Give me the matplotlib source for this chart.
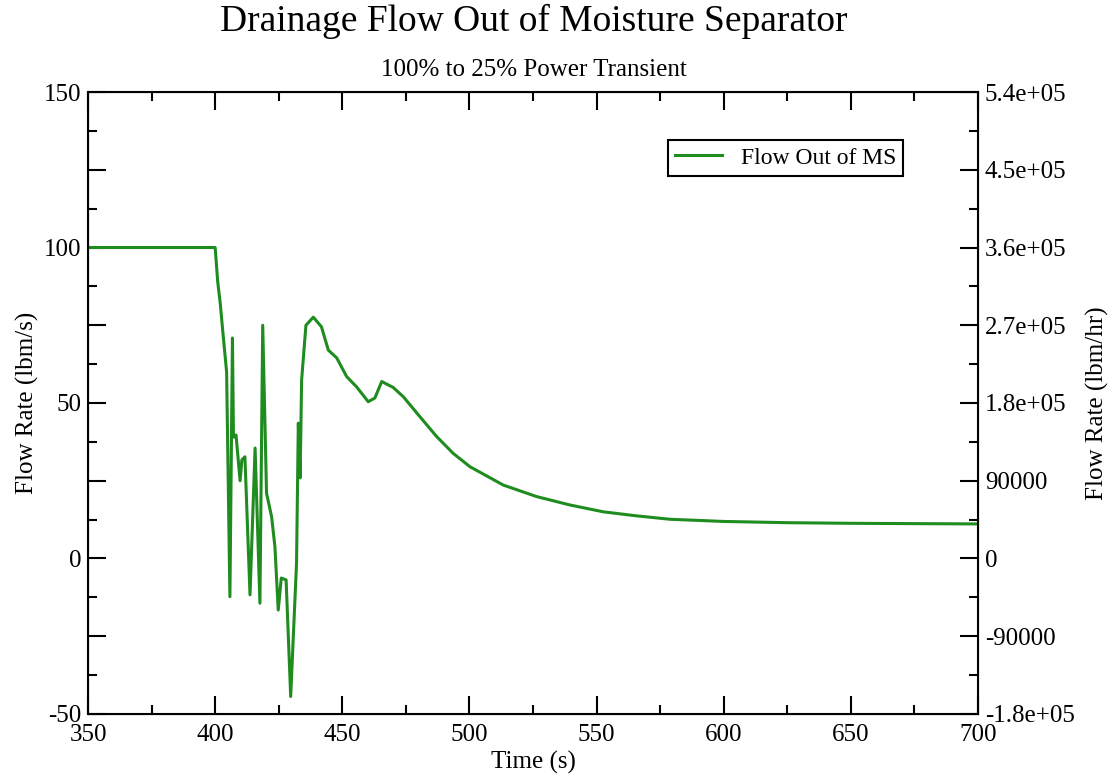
import matplotlib.pyplot as plt
from matplotlib.ticker import MultipleLocator

plt.rcParams['font.family'] = ['Liberation Serif', 'DejaVu Serif']

# Time (s) and drain flow (lbm/s)
time_s = [350, 400, 401, 402, 403, 404.5, 405.8, 406.8, 407.2, 408.2, 409.8, 410.5,
          411.7, 413.7, 415.7, 417.6, 418.7, 420.2, 422.2, 423.5, 424.8, 426, 427.9,
          429.7, 432.0, 432.7, 433.4, 434.0, 435.7, 438.6, 441.8, 444.5, 447.8,
          451.7, 455.6, 460.2, 462.8, 465.5, 470, 474, 480.5, 487.1, 493.6, 500.2,
          513.3, 526.4, 539.5, 552.6, 565.7, 578.9, 600, 625, 650, 675, 700]
flow = [100, 100, 89, 82, 73, 60, -12.3, 70.9, 39, 39.7, 25, 31.7,
        32.7, -11.7, 35.5, -14.4, 75, 21, 13.4, 3.8, -16.6, -6.3, -6.9,
        -44.4, -1.5, 43.5, 25.9, 57.4, 75, 77.6, 74.5, 67, 64.5,
        58.5, 55.2, 50.4, 51.6, 56.9, 55, 52, 45.6, 39.2, 33.8, 29.5,
        23.6, 19.9, 17.2, 15.0, 13.7, 12.6, 11.9, 11.5, 11.3, 11.2, 11.1]

fig = plt.figure(figsize=(11.1, 7.76), dpi=100)
ax = fig.add_axes([0.0793, 0.080, 0.8018, 0.8014])

ax.plot(time_s, flow, color='#1f8c1f', lw=2.2, label='Flow Out of MS')
ax.set_xlim(350, 700)
ax.set_ylim(-50, 150)

ax.xaxis.set_major_locator(MultipleLocator(50))
ax.xaxis.set_minor_locator(MultipleLocator(25))
ax.yaxis.set_minor_locator(MultipleLocator(12.5))
ax.set_yticks([-50, -25, 0, 25, 50, 75, 100, 125, 150])
ax.set_yticklabels(['-50', '', '0', '', '50', '', '100', '', '150'])
ax.tick_params(which='major', direction='in', length=13, width=1.5, top=True,
               labelsize=18)
ax.tick_params(axis='x', which='major', pad=7)
ax.tick_params(axis='y', which='major', pad=5)
ax.tick_params(which='minor', direction='in', length=6.5, width=1.5, top=True)
for s in ax.spines.values():
    s.set_linewidth(1.5)

ax.set_xlabel('Time (s)', fontsize=18, labelpad=4)
ax.set_ylabel('Flow Rate (lbm/s)', fontsize=18, labelpad=3)

# right axis in lbm/hr
ax2 = ax.twinx()
ax2.set_ylim(-50 * 3600, 150 * 3600)
ax2.yaxis.set_minor_locator(MultipleLocator(45000))
ax2.set_yticks([-180000, -90000, 0, 90000, 180000, 270000, 360000, 450000, 540000])
ax2.set_yticklabels(['-1.8e+05', '-90000', '0', '90000', '1.8e+05', '2.7e+05',
                     '3.6e+05', '4.5e+05', '5.4e+05'])
ax2.tick_params(which='major', direction='in', length=13, width=1.5, labelsize=18,
                pad=5)
ax2.tick_params(which='minor', direction='in', length=6.5, width=1.5)
ax2.set_ylabel('Flow Rate (lbm/hr)', fontsize=18, labelpad=8)

leg = ax.legend(loc='upper right', bbox_to_anchor=(0.916, 0.923), fontsize=17,
                frameon=True, fancybox=False, edgecolor='black', handlelength=2.0,
                borderpad=0.3, borderaxespad=0, framealpha=1)
leg.get_frame().set_linewidth(1.5)

fig.text(0.481, 0.972, 'Drainage Flow Out of Moisture Separator', ha='center',
         va='center', fontsize=27)
fig.text(0.481, 0.910, '100% to 25% Power Transient', ha='center', va='center',
         fontsize=18)

fig.savefig('out.png', dpi=100)
